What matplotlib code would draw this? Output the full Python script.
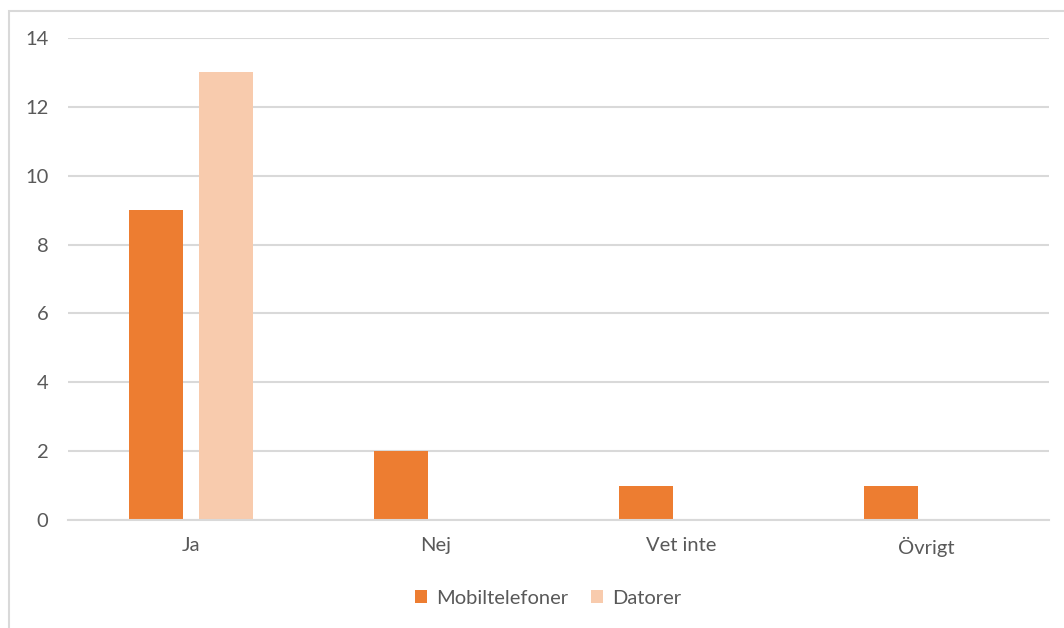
import numpy as np
import matplotlib.pyplot as plt
from matplotlib.patches import Rectangle

plt.rcParams['font.family'] = ['Lato', 'DejaVu Sans']

categories = ['Ja', 'Nej', 'Vet inte', 'Övrigt']
mobil = [9, 2, 1, 1]
datorer = [13, 0, 0, 0]
yticks = [0, 2, 4, 6, 8, 10, 12, 14]

orange = '#ED7D31'
peach = '#F8CBAD'
txt = '#595959'
grid = '#D9D9D9'

W, H = 1064, 628
fig = plt.figure(figsize=(W / 100, H / 100), dpi=100)
ax = fig.add_axes([68 / W, (H - 520) / H, (1049 - 68) / W, (520 - 38) / H])

x = np.arange(len(categories))
bw = 54 / 245
off = 35 / 245
ax.bar(x - off, mobil, bw, color=orange, label='Mobiltelefoner', zorder=3)
ax.bar(x + off, datorer, bw, color=peach, label='Datorer', zorder=3)

ax.set_xlim(-0.5, len(categories) - 0.5)
ax.set_ylim(0, 14)
ax.set_yticks(yticks)
ax.set_yticklabels([str(v) for v in yticks])
ax.set_xticks(x)
ax.set_xticklabels(categories)
ax.yaxis.grid(True, color=grid, linewidth=1.5, zorder=0)
ax.tick_params(axis='both', length=0, labelsize=14.5, labelcolor=txt)
ax.tick_params(axis='y', pad=14)
ax.tick_params(axis='x', pad=12)
for s in ['top', 'right', 'left']:
    ax.spines[s].set_visible(False)
ax.spines['bottom'].set_color(grid)
ax.spines['bottom'].set_linewidth(1.5)
ax.spines['bottom'].set_zorder(4)

leg = fig.legend(loc='center', bbox_to_anchor=(548 / W, (H - 598) / H), ncol=2,
                 frameon=False, fontsize=14.5, handlelength=0.6, handleheight=0.6,
                 handletextpad=0.45, columnspacing=1.1)
for t in leg.get_texts():
    t.set_color(txt)

# chart frame, cut at the right and bottom edges
fig.patches.append(Rectangle((9 / W, -0.05), 1.2, (H - 11) / H + 0.05,
                             transform=fig.transFigure, fill=False,
                             edgecolor=grid, linewidth=1.5))

fig.savefig('out.png', dpi=100)
